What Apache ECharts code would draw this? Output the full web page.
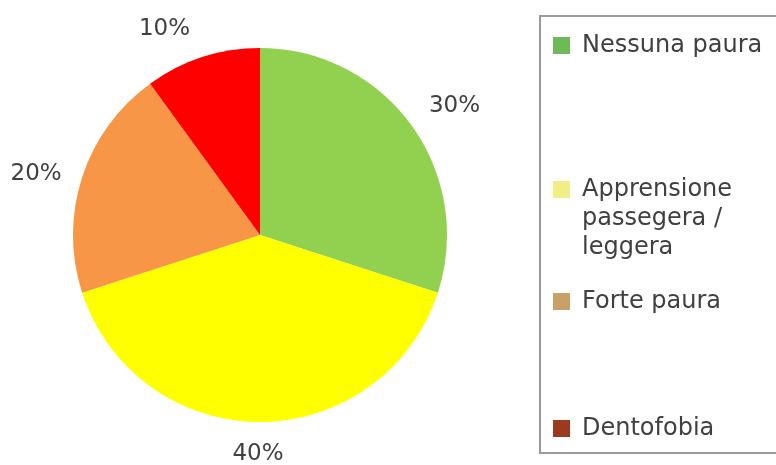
<!DOCTYPE html>
<html>
<head>
<meta charset="utf-8">
<script src="https://cdn.jsdelivr.net/npm/echarts@6/dist/echarts.min.js"></script>
<style>
  html, body { margin: 0; padding: 0; background: #fff; }
  #main { width: 776px; height: 465px; }
</style>
</head>
<body>
<div id="main"></div>
<script>
var categories = ['Nessuna paura', 'Apprensione passegera / leggera', 'Forte paura', 'Dentofobia'];
var values = [30, 40, 20, 10];
var sliceColors = ['#92D050', '#FFFF00', '#F79646', '#FF0000'];
var legendColors = ['#6DBA57', '#F2EE86', '#C9A066', '#9B3A1E'];
var legendTops = [31, 117, 287, 414];
// small nudges so the % labels sit where Excel put them
var labelNudge = [[5, 5], [-7, 2], [-2, 9], [-20, 11]];

var myChart = echarts.init(document.getElementById('main'));

var pieData = categories.map(function (name, i) {
    return { name: name, value: values[i], itemStyle: { color: sliceColors[i] } };
});

var legends = categories.map(function (name, i) {
    return {
        left: 553,
        top: legendTops[i],
        orient: 'vertical',
        padding: 0,
        icon: 'rect',
        itemWidth: 17,
        itemHeight: 17,
        selectedMode: false,
        data: [{ name: name, itemStyle: { color: legendColors[i] } }],
        formatter: function (n) {
            if (n.indexOf('/') > -1) {
                // two blank lines first so the marker sits next to the first line
                return '\n\n' + n.replace('Apprensione ', 'Apprensione\n').replace('/ ', '/\n');
            }
            return n;
        },
        textStyle: {
            fontFamily: 'DejaVu Sans',
            fontSize: 24,
            color: '#404040',
            lineHeight: 29,
            padding: [0, 0, 0, 7]
        }
    };
});

var option = {
    animation: false,
    legend: legends,
    graphic: [{
        type: 'rect',
        shape: { x: 540, y: 16, width: 260, height: 437 },
        style: { fill: 'none', stroke: '#9a9a9a', lineWidth: 2 },
        z: -1
    }],
    series: [{
        type: 'pie',
        center: [260, 235],
        radius: 187,
        startAngle: 90,
        clockwise: true,
        data: pieData,
        label: {
            show: true,
            position: 'outside',
            formatter: '{c}%',
            fontFamily: 'DejaVu Sans',
            fontSize: 23,
            color: '#404040',
            overflow: 'none'
        },
        labelLine: { show: false, length: 41, length2: 0 },
        labelLayout: function (params) {
            var d = labelNudge[params.dataIndex];
            return { align: 'center', dx: d[0], dy: d[1] };
        },
        emphasis: { disabled: true }
    }]
};

myChart.setOption(option);
</script>
</body>
</html>
